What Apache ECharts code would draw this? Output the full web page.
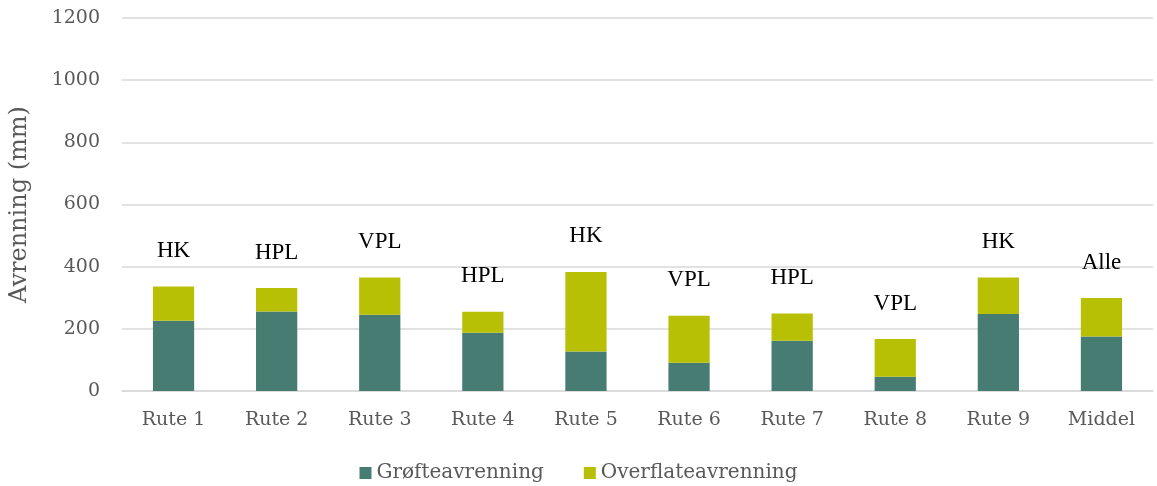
<!DOCTYPE html>
<html>
<head>
<meta charset="utf-8">
<script src="https://cdn.jsdelivr.net/npm/echarts@6/dist/echarts.min.js"></script>
<style>
  html, body { margin: 0; padding: 0; background: #fff; }
  #chart { width: 1157px; height: 486px; }
</style>
</head>
<body>
<div id="chart"></div>
<script>
// kategorier og verdier (mm), lest av figuren
var categories = ["Rute 1", "Rute 2", "Rute 3", "Rute 4", "Rute 5", "Rute 6", "Rute 7", "Rute 8", "Rute 9", "Middel"];
var grofte = [226, 256, 245, 187, 127, 91, 162, 46, 248, 175];
var overflate = [110, 75, 120, 68, 256, 151, 87, 121, 117, 124];
var typeLabels = ["HK", "HPL", "VPL", "HPL", "HK", "VPL", "HPL", "VPL", "HK", "Alle"];

var myChart = echarts.init(document.getElementById("chart"));
var axisFont = "'DejaVu Serif', Georgia, serif";
var grey = "#595959";

myChart.setOption({
  animation: false,
  grid: { left: 120, right: 4, top: 18, bottom: 95 },
  legend: {
    bottom: -2,
    left: "center",
    itemWidth: 12,
    itemHeight: 12,
    itemGap: 40,
    icon: "rect",
    textStyle: { color: grey, fontFamily: axisFont, fontSize: 20 },
    data: ["Grøfteavrenning", "Overflateavrenning"]
  },
  xAxis: {
    type: "category",
    data: categories,
    axisLine: { lineStyle: { color: "#d9d9d9", width: 1.5 } },
    axisTick: { show: false },
    axisLabel: { color: grey, fontFamily: axisFont, fontSize: 19, margin: 20 }
  },
  yAxis: {
    type: "value",
    min: 0,
    max: 1200,
    interval: 200,
    name: "Avrenning (mm)",
    nameLocation: "middle",
    nameGap: 90,
    nameTextStyle: { color: grey, fontFamily: axisFont, fontSize: 24 },
    axisLine: { show: false },
    axisTick: { show: false },
    axisLabel: {
      color: grey, fontFamily: axisFont, fontSize: 19, margin: 22,
      formatter: function (v) { return String(v); }
    },
    splitLine: { lineStyle: { color: "#d9d9d9", width: 1.5 } }
  },
  series: [
    {
      name: "Grøfteavrenning",
      type: "bar",
      stack: "tot",
      barWidth: "40%",
      data: grofte,
      itemStyle: { color: "#467c72" }
    },
    {
      name: "Overflateavrenning",
      type: "bar",
      stack: "tot",
      data: overflate,
      itemStyle: { color: "#b7c004" },
      label: {
        show: true,
        position: "top",
        distance: 24,
        color: "#000",
        fontFamily: "'Liberation Serif', 'Times New Roman', serif",
        fontSize: 23,
        formatter: function (p) { return typeLabels[p.dataIndex]; }
      }
    }
  ]
});

window.addEventListener("resize", function () { myChart.resize(); });
</script>
</body>
</html>
